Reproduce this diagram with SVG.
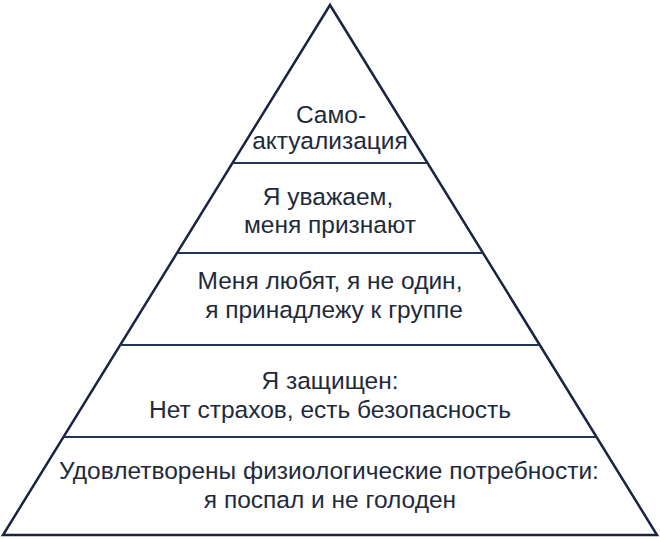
<svg xmlns="http://www.w3.org/2000/svg" width="660" height="539" viewBox="0 0 660 539">
<style>
  .edge { stroke: #1b2440; stroke-width: 2.5; fill: none; stroke-linejoin: miter; }
  .div { stroke: #1f3556; stroke-width: 2; }
  text { font-family: "Liberation Sans", Arial, sans-serif; font-size: 24.5px; fill: #1e2a3c; text-anchor: middle; }
</style>
<rect width="660" height="539" fill="#ffffff"/>
<g id="pyramid">
  <polygon class="edge" points="330,5 3,535 657,535"/>
</g>
<g id="connectors">
  <line class="div" x1="232.5" y1="163" x2="427.5" y2="163"/>
  <line class="div" x1="177" y1="253" x2="483" y2="253"/>
  <line class="div" x1="120" y1="345" x2="540" y2="345"/>
  <line class="div" x1="63" y1="437" x2="597" y2="437"/>
</g>
<g id="level5">
  <text x="331" y="123">Само-</text>
  <text x="330" y="149">актуализация</text>
</g>
<g id="level4">
  <text x="328" y="205">Я уважаем,</text>
  <text x="330" y="233">меня признают</text>
</g>
<g id="level3">
  <text x="330" y="289">Меня любят, я не один,</text>
  <text x="334" y="318">я принадлежу к группе</text>
</g>
<g id="level2">
  <text x="330" y="389">Я защищен:</text>
  <text x="330" y="418">Нет страхов, есть безопасность</text>
</g>
<g id="level1">
  <text x="329" y="479">Удовлетворены физиологические потребности:</text>
  <text x="330" y="508">я поспал и не голоден</text>
</g>
</svg>
